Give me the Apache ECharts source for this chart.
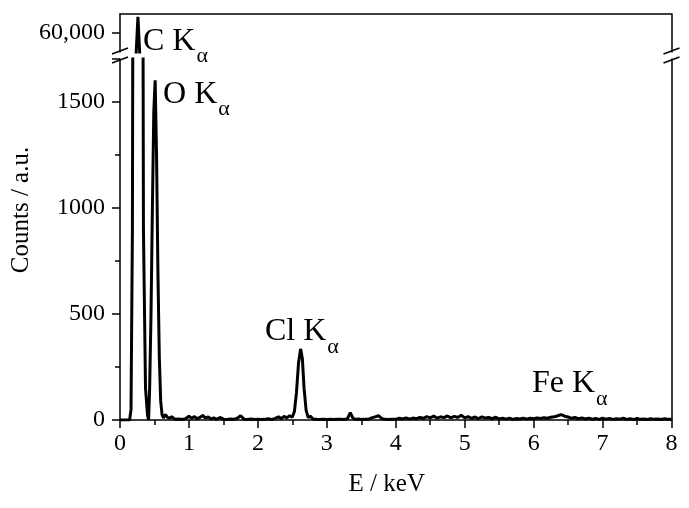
<!DOCTYPE html>
<html>
<head>
<meta charset="utf-8">
<script src="https://cdn.jsdelivr.net/npm/echarts@6/dist/echarts.min.js"></script>
<style>
  html, body { margin: 0; padding: 0; background: #fff; }
  #chart { width: 689px; height: 508px; }
</style>
</head>
<body>
<div id="chart"></div>
<script>
// EDX spectrum
const energies = [
    0.00, 0.05, 0.10, 0.14, 0.16, 0.18, 0.19, 0.21, 0.235, 0.26, 0.285, 0.31, 0.33, 0.34, 0.37, 0.40, 0.415,
    0.43, 0.45, 0.47, 0.49, 0.51, 0.53, 0.55, 0.57, 0.59, 0.61, 0.63, 0.66, 0.69, 0.72, 0.75,
    0.80, 0.85, 0.90, 0.95, 1.00, 1.04, 1.08, 1.12, 1.16, 1.20, 1.24, 1.28, 1.32, 1.36, 1.40, 1.45,
    1.50, 1.55, 1.60, 1.65, 1.70, 1.75, 1.80, 1.85, 1.90, 1.95, 2.00, 2.05, 2.10, 2.15, 2.20, 2.25,
    2.30, 2.34, 2.38, 2.42, 2.46, 2.50, 2.53, 2.56, 2.59, 2.62, 2.645, 2.67, 2.70, 2.73, 2.76, 2.80,
    2.85, 2.90, 2.95, 3.00, 3.05, 3.10, 3.15, 3.20, 3.25, 3.30, 3.34, 3.38, 3.42, 3.46, 3.50, 3.55,
    3.60, 3.65, 3.70, 3.75, 3.80, 3.85, 3.90, 3.95, 4.00, 4.05, 4.10, 4.15, 4.20, 4.25, 4.30, 4.35,
    4.40, 4.45, 4.50, 4.55, 4.60, 4.65, 4.70, 4.75, 4.80, 4.85, 4.90, 4.95, 5.00, 5.05, 5.10, 5.15,
    5.20, 5.25, 5.30, 5.35, 5.40, 5.45, 5.50, 5.55, 5.60, 5.65, 5.70, 5.75, 5.80, 5.85, 5.90, 5.95,
    6.00, 6.05, 6.10, 6.15, 6.20, 6.25, 6.30, 6.35, 6.40, 6.45, 6.50, 6.55, 6.60, 6.65, 6.70, 6.75,
    6.80, 6.85, 6.90, 6.95, 7.00, 7.05, 7.10, 7.15, 7.20, 7.25, 7.30, 7.35, 7.40, 7.45, 7.50, 7.55,
    7.60, 7.65, 7.70, 7.75, 7.80, 7.85, 7.90, 7.95, 8.00
];
const counts = [
    0, 0, 0, 0, 50, 900, 2500, 15000, 55000, 64000, 55000, 15000, 2500, 900, 150, 20, 0,
    150, 500, 1000, 1450, 1600, 1250, 700, 300, 90, 25, 10, 25, 12, 8, 15,
    3, 5, 2, 6, 18, 8, 16, 6, 12, 22, 9, 15, 5, 10, 3, 12,
    4, 2, 5, 3, 8, 20, 4, 2, 5, 2, 4, 2, 3, 6, 2, 8,
    15, 6, 17, 10, 20, 14, 40, 130, 270, 335, 290, 150, 45, 12, 18, 5,
    3, 2, 4, 2, 3, 2, 4, 3, 2, 6, 35, 8, 3, 5, 2, 4,
    3, 10, 15, 20, 6, 3, 2, 4, 3, 8, 5, 10, 4, 9, 6, 12,
    8, 16, 10, 18, 9, 15, 11, 19, 10, 17, 12, 22, 10, 16, 8, 14,
    7, 15, 9, 12, 6, 13, 5, 9, 4, 8, 3, 7, 5, 9, 4, 8,
    6, 10, 7, 11, 8, 13, 15, 20, 25, 18, 14, 8, 12, 6, 10, 5,
    9, 4, 7, 3, 8, 4, 7, 3, 6, 4, 8, 3, 6, 2, 7, 3,
    5, 2, 6, 3, 5, 2, 6, 3, 4
];

// peak labels: [energy, counts] of the top-left corner of each label
const peakNames = ['C', 'O', 'Cl', 'Fe'];
const labelAnchors = [[0.334, 61900], [0.624, 1610], [2.103, 490], [5.976, 245]];

const xTicks = { min: 0, max: 8, interval: 1 };
const yLowTicks = { min: 0, max: 1700, interval: 500 };
const yHighTicks = { min: 55000, max: 64750, shown: [60000] };

const spectrum = energies.map((e, i) => [e, counts[i]]);

// layout (px)
const plotLeft = 120, plotRight = 671.5;
const plotTop = 14, breakTop = 52, breakBottom = 59, plotBottom = 420;

const chartDom = document.getElementById('chart');
const chart = echarts.init(chartDom);
const font = 'Liberation Serif';
const black = '#000';

const labelRich = {
    m: { fontSize: 32, verticalAlign: 'top', fontFamily: font, color: black },
    s: { fontSize: 22, verticalAlign: 'top', padding: [20, 0, 0, 1], fontFamily: font, color: black }
};

function peakLabel(i) {
    return {
        coord: labelAnchors[i],
        symbol: 'circle',
        symbolSize: 0,
        label: {
            show: true,
            position: [0, 0],
            align: 'left',
            verticalAlign: 'top',
            formatter: '{m|' + peakNames[i] + ' K}{s|\u03b1}',
            rich: labelRich
        }
    };
}

function breakMarks(x) {
    return [51, 60].map(y => ({
        type: 'line',
        shape: { x1: x - 8, y1: y + 3, x2: x + 8, y2: y - 3 },
        style: { stroke: black, lineWidth: 1.5 }
    }));
}

const plainAxisLine = { show: true, onZero: false, lineStyle: { color: black, width: 1.5 } };

const option = {
    animation: false,
    backgroundColor: '#fff',
    textStyle: { fontFamily: font },
    grid: [
        { left: plotLeft, right: 689 - plotRight, top: plotTop, height: breakTop - plotTop },
        { left: plotLeft, right: 689 - plotRight, top: breakBottom, bottom: 508 - plotBottom }
    ],
    xAxis: [
        {
            gridIndex: 0, type: 'value', position: 'top',
            min: xTicks.min, max: xTicks.max, interval: xTicks.interval,
            axisLine: plainAxisLine,
            axisTick: { show: false }, axisLabel: { show: false }, splitLine: { show: false }
        },
        {
            gridIndex: 1, type: 'value', position: 'bottom',
            min: xTicks.min, max: xTicks.max, interval: xTicks.interval,
            name: 'E / keV', nameLocation: 'middle', nameGap: 52,
            nameTextStyle: { fontSize: 25, color: black, fontFamily: font, padding: [0, 18, 0, 0] },
            axisLine: plainAxisLine,
            axisTick: { show: true, inside: false, length: 8, lineStyle: { color: black, width: 1.5 } },
            minorTick: { show: true, splitNumber: 2, length: 5, lineStyle: { color: black, width: 1.5 } },
            axisLabel: { fontSize: 24, color: black, fontFamily: font, margin: 12 },
            splitLine: { show: false }
        }
    ],
    yAxis: [
        {
            gridIndex: 0, type: 'value', position: 'left',
            min: yHighTicks.min, max: yHighTicks.max,
            axisLine: plainAxisLine,
            axisTick: { show: true, length: 8, customValues: yHighTicks.shown, lineStyle: { color: black, width: 1.5 } },
            axisLabel: {
                fontSize: 24, color: black, fontFamily: font, margin: 15,
                customValues: yHighTicks.shown,
                formatter: v => v.toLocaleString('en-US')
            },
            splitLine: { show: false }
        },
        {
            gridIndex: 0, type: 'value', position: 'right',
            min: yHighTicks.min, max: yHighTicks.max,
            axisLine: plainAxisLine,
            axisTick: { show: false }, axisLabel: { show: false }, splitLine: { show: false }
        },
        {
            gridIndex: 1, type: 'value', position: 'left',
            min: yLowTicks.min, max: yLowTicks.max, interval: yLowTicks.interval,
            name: 'Counts / a.u.', nameLocation: 'middle', nameGap: 86,
            nameTextStyle: { fontSize: 25, color: black, fontFamily: font, padding: [0, 0, 0, 59] },
            axisLine: plainAxisLine,
            axisTick: { show: true, length: 8, lineStyle: { color: black, width: 1.5 } },
            minorTick: { show: true, splitNumber: 2, length: 5, lineStyle: { color: black, width: 1.5 } },
            axisLabel: {
                fontSize: 24, color: black, fontFamily: font, margin: 15,
                showMaxLabel: false, formatter: v => String(v)
            },
            splitLine: { show: false }
        },
        {
            gridIndex: 1, type: 'value', position: 'right',
            min: yLowTicks.min, max: yLowTicks.max,
            axisLine: plainAxisLine,
            axisTick: { show: false }, axisLabel: { show: false }, splitLine: { show: false }
        }
    ],
    series: [
        {
            name: 'Counts (high)', type: 'line',
            xAxisIndex: 0, yAxisIndex: 0,
            data: spectrum, showSymbol: false, symbol: 'none', clip: true,
            lineStyle: { color: black, width: 3 },
            markPoint: { silent: true, data: [peakLabel(0)] }
        },
        {
            name: 'Counts', type: 'line',
            xAxisIndex: 1, yAxisIndex: 2,
            data: spectrum, showSymbol: false, symbol: 'none', clip: true,
            lineStyle: { color: black, width: 3 },
            markPoint: { silent: true, data: [peakLabel(1), peakLabel(2), peakLabel(3)] }
        }
    ],
    graphic: [...breakMarks(plotLeft), ...breakMarks(plotRight)]
};

chart.setOption(option);
</script>
</body>
</html>
